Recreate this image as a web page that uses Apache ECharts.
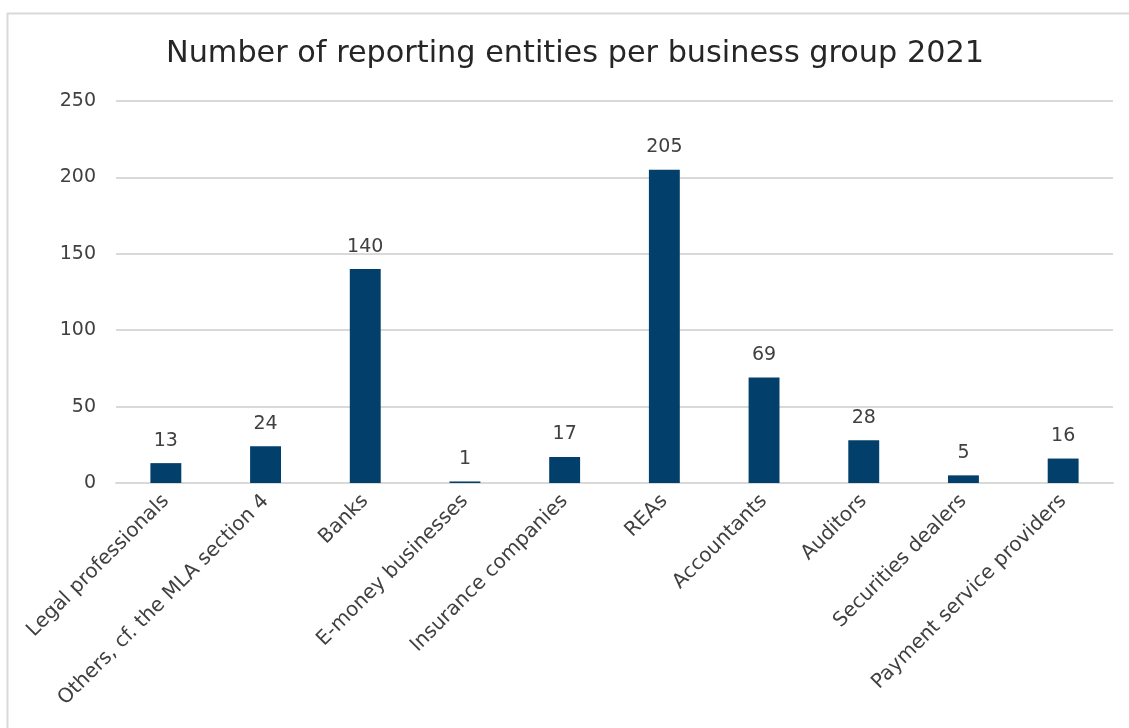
<!DOCTYPE html>
<html>
<head>
<meta charset="utf-8">
<script src="https://cdn.jsdelivr.net/npm/echarts@6/dist/echarts.min.js"></script>
<style>
  html, body { margin: 0; padding: 0; background: #fff; }
  #chart { width: 1129px; height: 728px; }
</style>
</head>
<body>
<div id="chart"></div>
<script>
// Business groups and their number of reporting entities (2021)
const categories = [
  'Legal professionals',
  'Others, cf. the MLA section 4',
  'Banks',
  'E-money businesses',
  'Insurance companies',
  'REAs',
  'Accountants',
  'Auditors',
  'Securities dealers',
  'Payment service providers'
];
const entities = [13, 24, 140, 1, 17, 205, 69, 28, 5, 16];
const yTicks = [0, 50, 100, 150, 200, 250];

const font = '"DejaVu Sans", Verdana, sans-serif';
const textColor = '#404040';

const chart = echarts.init(document.getElementById('chart'));
chart.setOption({
  animation: false,
  title: {
    text: 'Number of reporting entities per business group 2021',
    left: 161,
    top: 34,
    textStyle: { fontFamily: font, fontSize: 30.3, fontWeight: 'normal', color: '#262626' }
  },
  graphic: [{
    type: 'rect',
    shape: { x: 7.5, y: 13.5, width: 1140, height: 740 },
    style: { fill: 'none', stroke: '#d9d9d9', lineWidth: 2 },
    silent: true
  }],
  grid: { left: 116, right: 16, top: 101, bottom: 245, containLabel: false },
  xAxis: {
    type: 'category',
    data: categories,
    axisLine: { show: true, lineStyle: { color: '#d9d9d9', width: 2 } },
    axisTick: { show: false },
    axisLabel: {
      interval: 0,
      rotate: 45,
      margin: 15,
      fontFamily: font,
      fontSize: 20,
      color: textColor
    }
  },
  yAxis: {
    type: 'value',
    min: yTicks[0],
    max: yTicks[yTicks.length - 1],
    interval: 50,
    axisLine: { show: false },
    axisTick: { show: false },
    splitLine: { lineStyle: { color: '#d9d9d9', width: 2 } },
    axisLabel: { margin: 20, fontFamily: font, fontSize: 19, color: textColor }
  },
  series: [{
    type: 'bar',
    data: entities,
    barWidth: '31%',
    itemStyle: { color: '#023f6a' },
    label: {
      show: true,
      position: 'top',
      distance: 13,
      fontFamily: font,
      fontSize: 19,
      color: textColor
    }
  }]
});
</script>
</body>
</html>
